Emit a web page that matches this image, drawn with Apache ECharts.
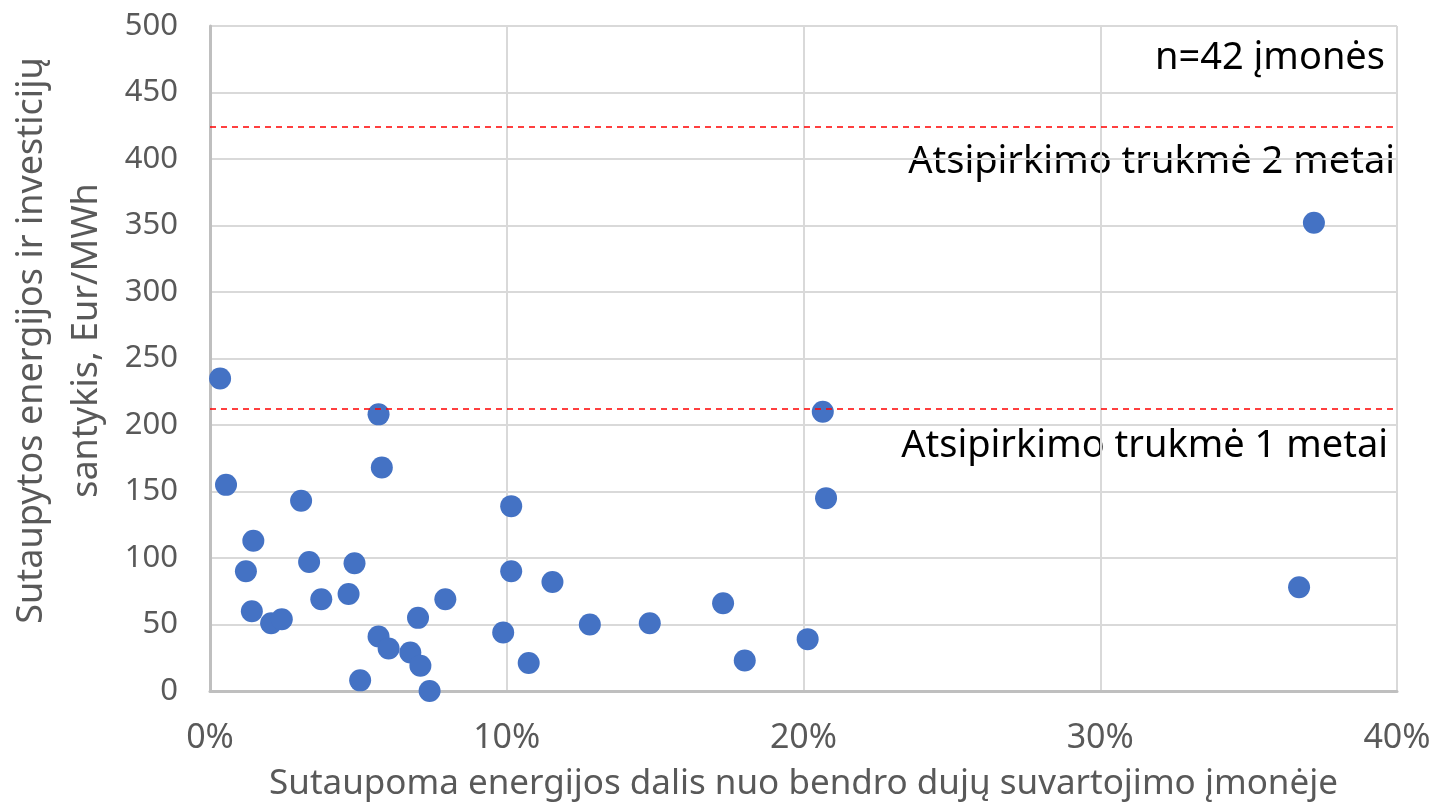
<!DOCTYPE html>
<html>
<head>
<meta charset="utf-8">
<script src="https://cdn.jsdelivr.net/npm/echarts@6/dist/echarts.min.js"></script>
<style>
  html, body { margin: 0; padding: 0; background: #fff; }
  #chart { width: 1436px; height: 807px; }
</style>
</head>
<body>
<div id="chart"></div>
<script>
// share of saved energy (%) and saved energy / investment ratio (Eur/MWh)
const savedShare = [
  0.34, 5.68, 5.79, 0.54, 3.07, 1.46, 3.34, 4.87, 1.21, 4.67, 3.75, 7.93,
  1.41, 7.01, 2.06, 2.42, 5.68, 6.02, 6.75, 7.09, 5.06, 7.40,
  10.15, 20.76, 10.15, 11.54, 17.29, 12.80, 14.82, 9.88, 20.14, 10.74, 18.02,
  20.65, 37.2, 36.7
]
const ratio = [
  235, 208, 168, 155, 143, 113, 97, 96, 90, 73, 69, 69,
  60, 55, 51, 54, 41, 32, 29, 19, 8, 0,
  139, 145, 90, 82, 66, 50, 51, 44, 39, 21, 23,
  210, 352, 78
]
const paybackLines = [212, 424]
const xTicks = [0, 10, 20, 30, 40]

const font = "'Noto Sans', sans-serif"

const chart = echarts.init(document.getElementById('chart'))
const option = {
  animation: false,
  grid: { left: 210, right: 39, top: 26, bottom: 116, outerBoundsMode: 'none' },
  xAxis: {
    type: 'value',
    min: xTicks[0],
    max: xTicks[xTicks.length - 1],
    interval: 10,
    name: 'Sutaupoma energijos dalis nuo bendro dujų suvartojimo įmonėje',
    nameLocation: 'middle',
    nameGap: 76,
    nameTextStyle: { fontFamily: font, fontSize: 35, color: '#595959' },
    axisLine: { show: true, lineStyle: { color: '#bfbfbf', width: 3 } },
    axisTick: { show: false },
    axisLabel: {
      margin: 30,
      fontFamily: font, fontSize: 34, color: '#595959',
      formatter: (v) => v + '%'
    },
    splitLine: { show: true, lineStyle: { color: '#d9d9d9', width: 2 } }
  },
  yAxis: {
    type: 'value',
    min: 0,
    max: 500,
    interval: 50,
    name: 'Sutaupytos energijos ir investicijų\nsantykis, Eur/MWh',
    nameLocation: 'middle',
    nameGap: 83,
    nameTextStyle: {
      fontFamily: font, fontSize: 36, color: '#595959', lineHeight: 55,
      padding: [0, 0, 0, 36]
    },
    axisLine: { show: true, lineStyle: { color: '#bfbfbf', width: 3 } },
    axisTick: { show: false },
    axisLabel: { margin: 32, fontFamily: font, fontSize: 31, color: '#595959' },
    splitLine: { show: true, lineStyle: { color: '#d9d9d9', width: 2 } }
  },
  series: [
    {
      type: 'scatter',
      symbolSize: 22,
      itemStyle: { color: '#4472C4', opacity: 1 },
      data: savedShare.map((x, i) => [x, ratio[i]]),
      markLine: {
        silent: true,
        symbol: ['none', 'none'],
        label: { show: false },
        lineStyle: { color: '#ff0000', type: [6, 5], width: 1.5 },
        data: paybackLines.map((v) => ({ yAxis: v }))
      },
      z: 3
    }
  ],
  graphic: [
    {
      type: 'text', right: 51, top: 39,
      style: { text: 'n=42 įmonės', font: "38px " + font, fill: '#000' }
    },
    {
      type: 'text', right: 41, top: 143,
      style: { text: 'Atsipirkimo trukmė 2 metai', font: "38px " + font, fill: '#000' }
    },
    {
      type: 'text', right: 48, top: 427,
      style: { text: 'Atsipirkimo trukmė 1 metai', font: "38px " + font, fill: '#000' }
    }
  ]
}
chart.setOption(option)
</script>
</body>
</html>
